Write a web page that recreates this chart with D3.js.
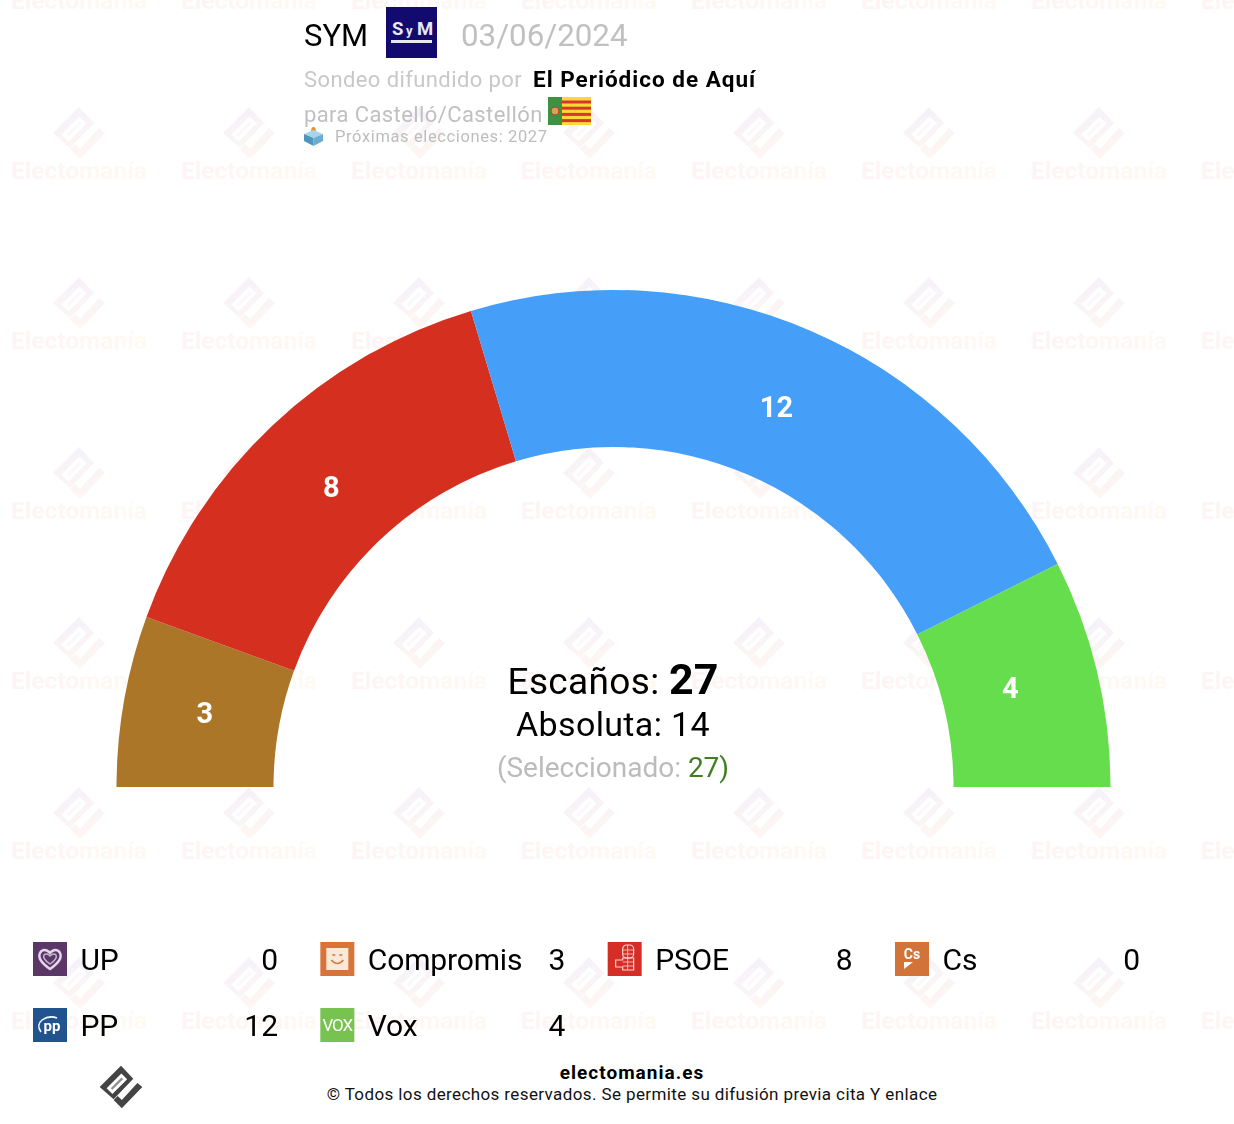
<!DOCTYPE html>
<html>
<head>
<meta charset="utf-8">
<script src="https://cdn.jsdelivr.net/npm/d3@7"></script>
<style>
html,body{margin:0;padding:0;background:#fff}
svg{display:block}
text{font-family:Roboto,sans-serif}
</style>
</head>
<body>
<div id="chart"></div>
<script>
const parties=['UP','Compromis','PSOE','Cs','PP','Vox'];
const seats=[0,3,8,0,12,4];
const arcColors=['#5b3768','#ab7628','#d52f1f','#d2733a','#459ff9','#66dd4d'];
const totalSeats=27,majority=14,selected=27;
const watermarkCols=[79,249,419,589,759,929,1099,1269];
const watermarkRows=[-37,133,303,473,643,813,983];

const W=1234,H=1124;
const svg=d3.select('#chart').append('svg').attr('width',W).attr('height',H).attr('viewBox',`0 0 ${W} ${H}`);
const defs=svg.append('defs');

// gradients + logo symbol
const gradText=defs.append('linearGradient').attr('id','wmText');
gradText.append('stop').attr('offset','0').attr('stop-color','#e8304a');
gradText.append('stop').attr('offset','1').attr('stop-color','#f5a623');
const gradLogo=defs.append('linearGradient').attr('id','wmLogo').attr('gradientUnits','userSpaceOnUse')
  .attr('x1',-5).attr('y1',-26).attr('x2',5).attr('y2',26);
gradLogo.append('stop').attr('offset','0').attr('stop-color','#6a3ab0');
gradLogo.append('stop').attr('offset','1').attr('stop-color','#e87a3a');

const LOGO_BODY='M0,-26L15,-10L-9,15L-26,0ZM0.500,-16.500L-17.500,1.500L-10.500,8.500L7.500,-9.500Z';
const LOGO_TICK='M20,-5L26,0L1,26L-9,16L-4,11L1,16Z';
const LOGO_BAR='M2.500,-9.500L0.500,-11.500L-12.500,1.500L-10.500,3.500Z';

function drawLogo(g,fill){
  g.append('path').attr('d',LOGO_BODY).attr('fill',fill).attr('fill-rule','evenodd');
  g.append('path').attr('d',LOGO_TICK).attr('fill',fill);
  g.append('path').attr('d',LOGO_BAR).attr('fill',fill).attr('opacity',0.6);
}

// watermark tiles
const wm=svg.append('g').attr('opacity',0.07);
watermarkRows.forEach(y=>watermarkCols.forEach(x=>{
  const t=wm.append('g').attr('transform',`translate(${x},${y})`);
  drawLogo(t,'url(#wmLogo)');
  t.append('text').attr('x',0).attr('y',46).attr('text-anchor','middle')
    .attr('fill','url(#wmText)').attr('fill-opacity',0.8).style('font-size','24.5px').style('font-weight',700).text('Electomanía');
}));

// Gauge
const cx=613.5,cy=787,outerR=497,innerR=340;
const pie=d3.pie().value(d=>d.seats).sort(null).startAngle(-Math.PI/2).endAngle(Math.PI/2);
const arc=d3.arc().innerRadius(innerR).outerRadius(outerR);
const labelArc=d3.arc().innerRadius(414).outerRadius(414);
const labelNudge={Compromis:[-1,-3],PSOE:[2,1],PP:[-1,0],Vox:[-6,-4]};
const rows=parties.map((p,i)=>({party:p,seats:seats[i],color:arcColors[i]}));
const gauge=svg.append('g').attr('transform',`translate(${cx},${cy})`);
const slices=pie(rows).filter(d=>d.data.seats>0);
gauge.selectAll('.arc').data(slices).enter().append('path')
  .attr('d',arc).attr('fill',d=>d.data.color);
gauge.selectAll('.label').data(slices).enter().append('text')
  .attr('transform',d=>{
    const c=labelArc.centroid(d),n=labelNudge[d.data.party];
    return `translate(${c[0]+n[0]},${c[1]+n[1]})`;
  })
  .attr('text-anchor','middle').attr('dy','0.36em').attr('fill','#fff')
  .style('font-size','29px').style('font-weight',700).text(d=>d.data.seats);

// Center text
const t1=svg.append('text').attr('x',613).attr('y',694).attr('text-anchor','middle').attr('fill','#000');
t1.append('tspan').style('font-size','37px').style('letter-spacing','0.35px').text('Escaños: ');
t1.append('tspan').style('font-size','43px').style('font-weight',700).text(totalSeats);
svg.append('text').attr('x',613).attr('y',736).attr('text-anchor','middle').attr('fill','#000')
  .style('font-size','34px').style('letter-spacing','0.35px').text(`Absoluta: ${majority}`);
const t3=svg.append('text').attr('x',613).attr('y',777).attr('text-anchor','middle').attr('fill','#bbb')
  .style('font-size','28px');
t3.append('tspan').text('(Seleccionado: ');
t3.append('tspan').attr('fill','#3f7f1f').text(`${selected})`);

// Header
svg.append('text').attr('x',304).attr('y',46).attr('fill','#000').style('font-size','31px').text('SYM');
svg.append('text').attr('x',461).attr('y',46).attr('fill','#c0c0c0').style('font-size','31.3px').text('03/06/2024');
const sym=svg.append('g').attr('transform','translate(386,7)');
sym.append('rect').attr('width',51).attr('height',51).attr('fill','#120a6e');
sym.append('text').attr('x',6).attr('y',28).attr('fill','#e8e8f4').style('font-size','18.5px').style('font-weight',700).text('S');
sym.append('text').attr('x',20).attr('y',28).attr('fill','#e8e8f4').style('font-size','13px').style('font-weight',700).text('y');
sym.append('text').attr('x',31).attr('y',28).attr('fill','#e8e8f4').style('font-size','18.5px').style('font-weight',700).text('M');
sym.append('rect').attr('x',5).attr('y',33).attr('width',41).attr('height',3).attr('fill','#e8e8f4');

svg.append('text').attr('x',304).attr('y',87).attr('fill','#c8c8c8').style('font-size','22px').style('letter-spacing','0.4px').text('Sondeo difundido por');
svg.append('text').attr('x',533).attr('y',87).attr('fill','#000').style('font-size','22.5px').style('font-weight',700).style('letter-spacing','1px').text('El Periódico de Aquí');
svg.append('text').attr('x',304).attr('y',122).attr('fill','#c0c0c0').style('font-size','22px').style('letter-spacing','0.4px').text('para Castelló/Castellón');

// Flag
const flag=svg.append('g').attr('transform','translate(548,97)');
flag.append('rect').attr('width',43).attr('height',28).attr('fill','#fcd838');
d3.range(4).forEach(i=>flag.append('rect').attr('x',14).attr('y',3.5+i*6.2).attr('width',29).attr('height',3).attr('fill','#d4382c'));
flag.append('rect').attr('width',14).attr('height',28).attr('fill','#3f9142');
flag.append('circle').attr('cx',7).attr('cy',14).attr('r',4).attr('fill','#d9a05a').attr('stroke','#b8402c');

// Ballot box
const box=svg.append('g').attr('transform','translate(304,127)');
box.append('path').attr('d','M7,5Q7,0 9.5,0Q12,0 12,5Z').attr('fill','#e8913a');
box.append('path').attr('d','M0,7L9.500,3L19,7L9.500,11Z').attr('fill','#a8d4ec');
box.append('path').attr('d','M0,7L9.500,11L9.500,19L0,14Z').attr('fill','#4f94bd');
box.append('path').attr('d','M19,7L9.500,11L9.500,19L19,14Z').attr('fill','#6eaccf');
svg.append('text').attr('x',335).attr('y',142).attr('fill','#bdbdbd').style('font-size','16.500px').style('letter-spacing','0.62px').text('Próximas elecciones: 2027');

// Legend
const legendX=d3.scalePoint().domain([0,1,2,3]).range([33,895]);
const legendY=d3.scalePoint().domain([0,1]).range([942,1008]);
const iconColors={UP:'#5b3768',Compromis:'#d8743a',PSOE:'#d42e27',Cs:'#d2733a',PP:'#21538f',Vox:'#78c24f'};
const iconDraw={
  UP(g){
    g.append('path').attr('d','M17,27C7,20 5,15 7,11C9,7 14,7 17,11C20,7 25,7 27,11C29,15 27,20 17,27Z').attr('fill','none').attr('stroke','#e3d6e8').attr('stroke-width',2.5);
    g.append('path').attr('d','M17,22C11,18 10,15 11,13C13,11 15,12 17,14C19,12 21,11 23,13C24,15 23,18 17,22Z').attr('fill','none').attr('stroke','#c8b4d0').attr('stroke-width',1.500);
  },
  Compromis(g){
    g.append('rect').attr('x',6).attr('y',6).attr('width',22).attr('height',22).attr('fill','#fbe9d8');
    g.append('path').attr('d','M11,18Q17,25 23,18').attr('fill','none').attr('stroke','#d8743a').attr('stroke-width',1.500);
    g.append('path').attr('d','M12,13h3M19,13h3').attr('stroke','#d8743a').attr('stroke-width',1.500);
  },
  PSOE(g){
    g.append('rect').attr('x',15).attr('y',3).attr('width',11).attr('height',13).attr('rx',4).attr('fill','none').attr('stroke','#f7d4d0').attr('stroke-width',1.2);
    g.append('path').attr('d','M8,18h7v-2h11v12h-11v-3h-7Z').attr('fill','none').attr('stroke','#f7d4d0').attr('stroke-width',1.2);
    g.append('path').attr('d','M15,20h11M15,24h11M20,3v25M15,8h11M15,12h11').attr('stroke','#f7d4d0').attr('stroke-width',0.8);
  },
  Cs(g){
    g.append('text').attr('x',17).attr('y',17).attr('text-anchor','middle').attr('fill','#fff').style('font-size','14px').style('font-weight',700).text('Cs');
    g.append('path').attr('d','M9,20L18,20L9,27Z').attr('fill','#fff');
  },
  PP(g){
    g.append('text').attr('x',19).attr('y',23).attr('text-anchor','middle').attr('fill','#fff').style('font-size','15px').style('font-weight',700).text('pp');
    g.append('path').attr('d','M8,24Q3,17 9,12Q16,7 24,10').attr('fill','none').attr('stroke','#fff').attr('stroke-width',1.500);
  },
  Vox(g){
    g.append('text').attr('x',17).attr('y',23).attr('text-anchor','middle').attr('fill','#fff').style('font-size','17px').style('letter-spacing','-1px').text('VOX');
  }
};
const legend=svg.append('g');
parties.forEach((p,i)=>{
  const col=i%4,row=Math.floor(i/4);
  const g=legend.append('g').attr('transform',`translate(${legendX(col)},${legendY(row)})`);
  const ic=g.append('g');
  ic.append('rect').attr('width',34).attr('height',34).attr('fill',iconColors[p]);
  iconDraw[p](ic);
  g.append('text').attr('x',47.5).attr('y',28).attr('fill','#000').style('font-size','30px').style('letter-spacing','-0.15px').text(p);
  g.append('text').attr('x',245).attr('y',28).attr('text-anchor','end').attr('fill','#000').style('font-size','30px').text(seats[i]);
});

// Footer
drawLogo(svg.append('g').attr('transform','translate(121,1087) scale(0.82)'),'#444');
svg.append('text').attr('x',632).attr('y',1079).attr('text-anchor','middle').attr('fill','#000')
  .style('font-size','19px').style('font-weight',700).style('letter-spacing','1px').text('electomania.es');
svg.append('text').attr('x',632).attr('y',1100).attr('text-anchor','middle').attr('fill','#111')
  .style('font-size','17px').style('letter-spacing','0.39px').text('© Todos los derechos reservados. Se permite su difusión previa cita Y enlace');
</script>
</body>
</html>
